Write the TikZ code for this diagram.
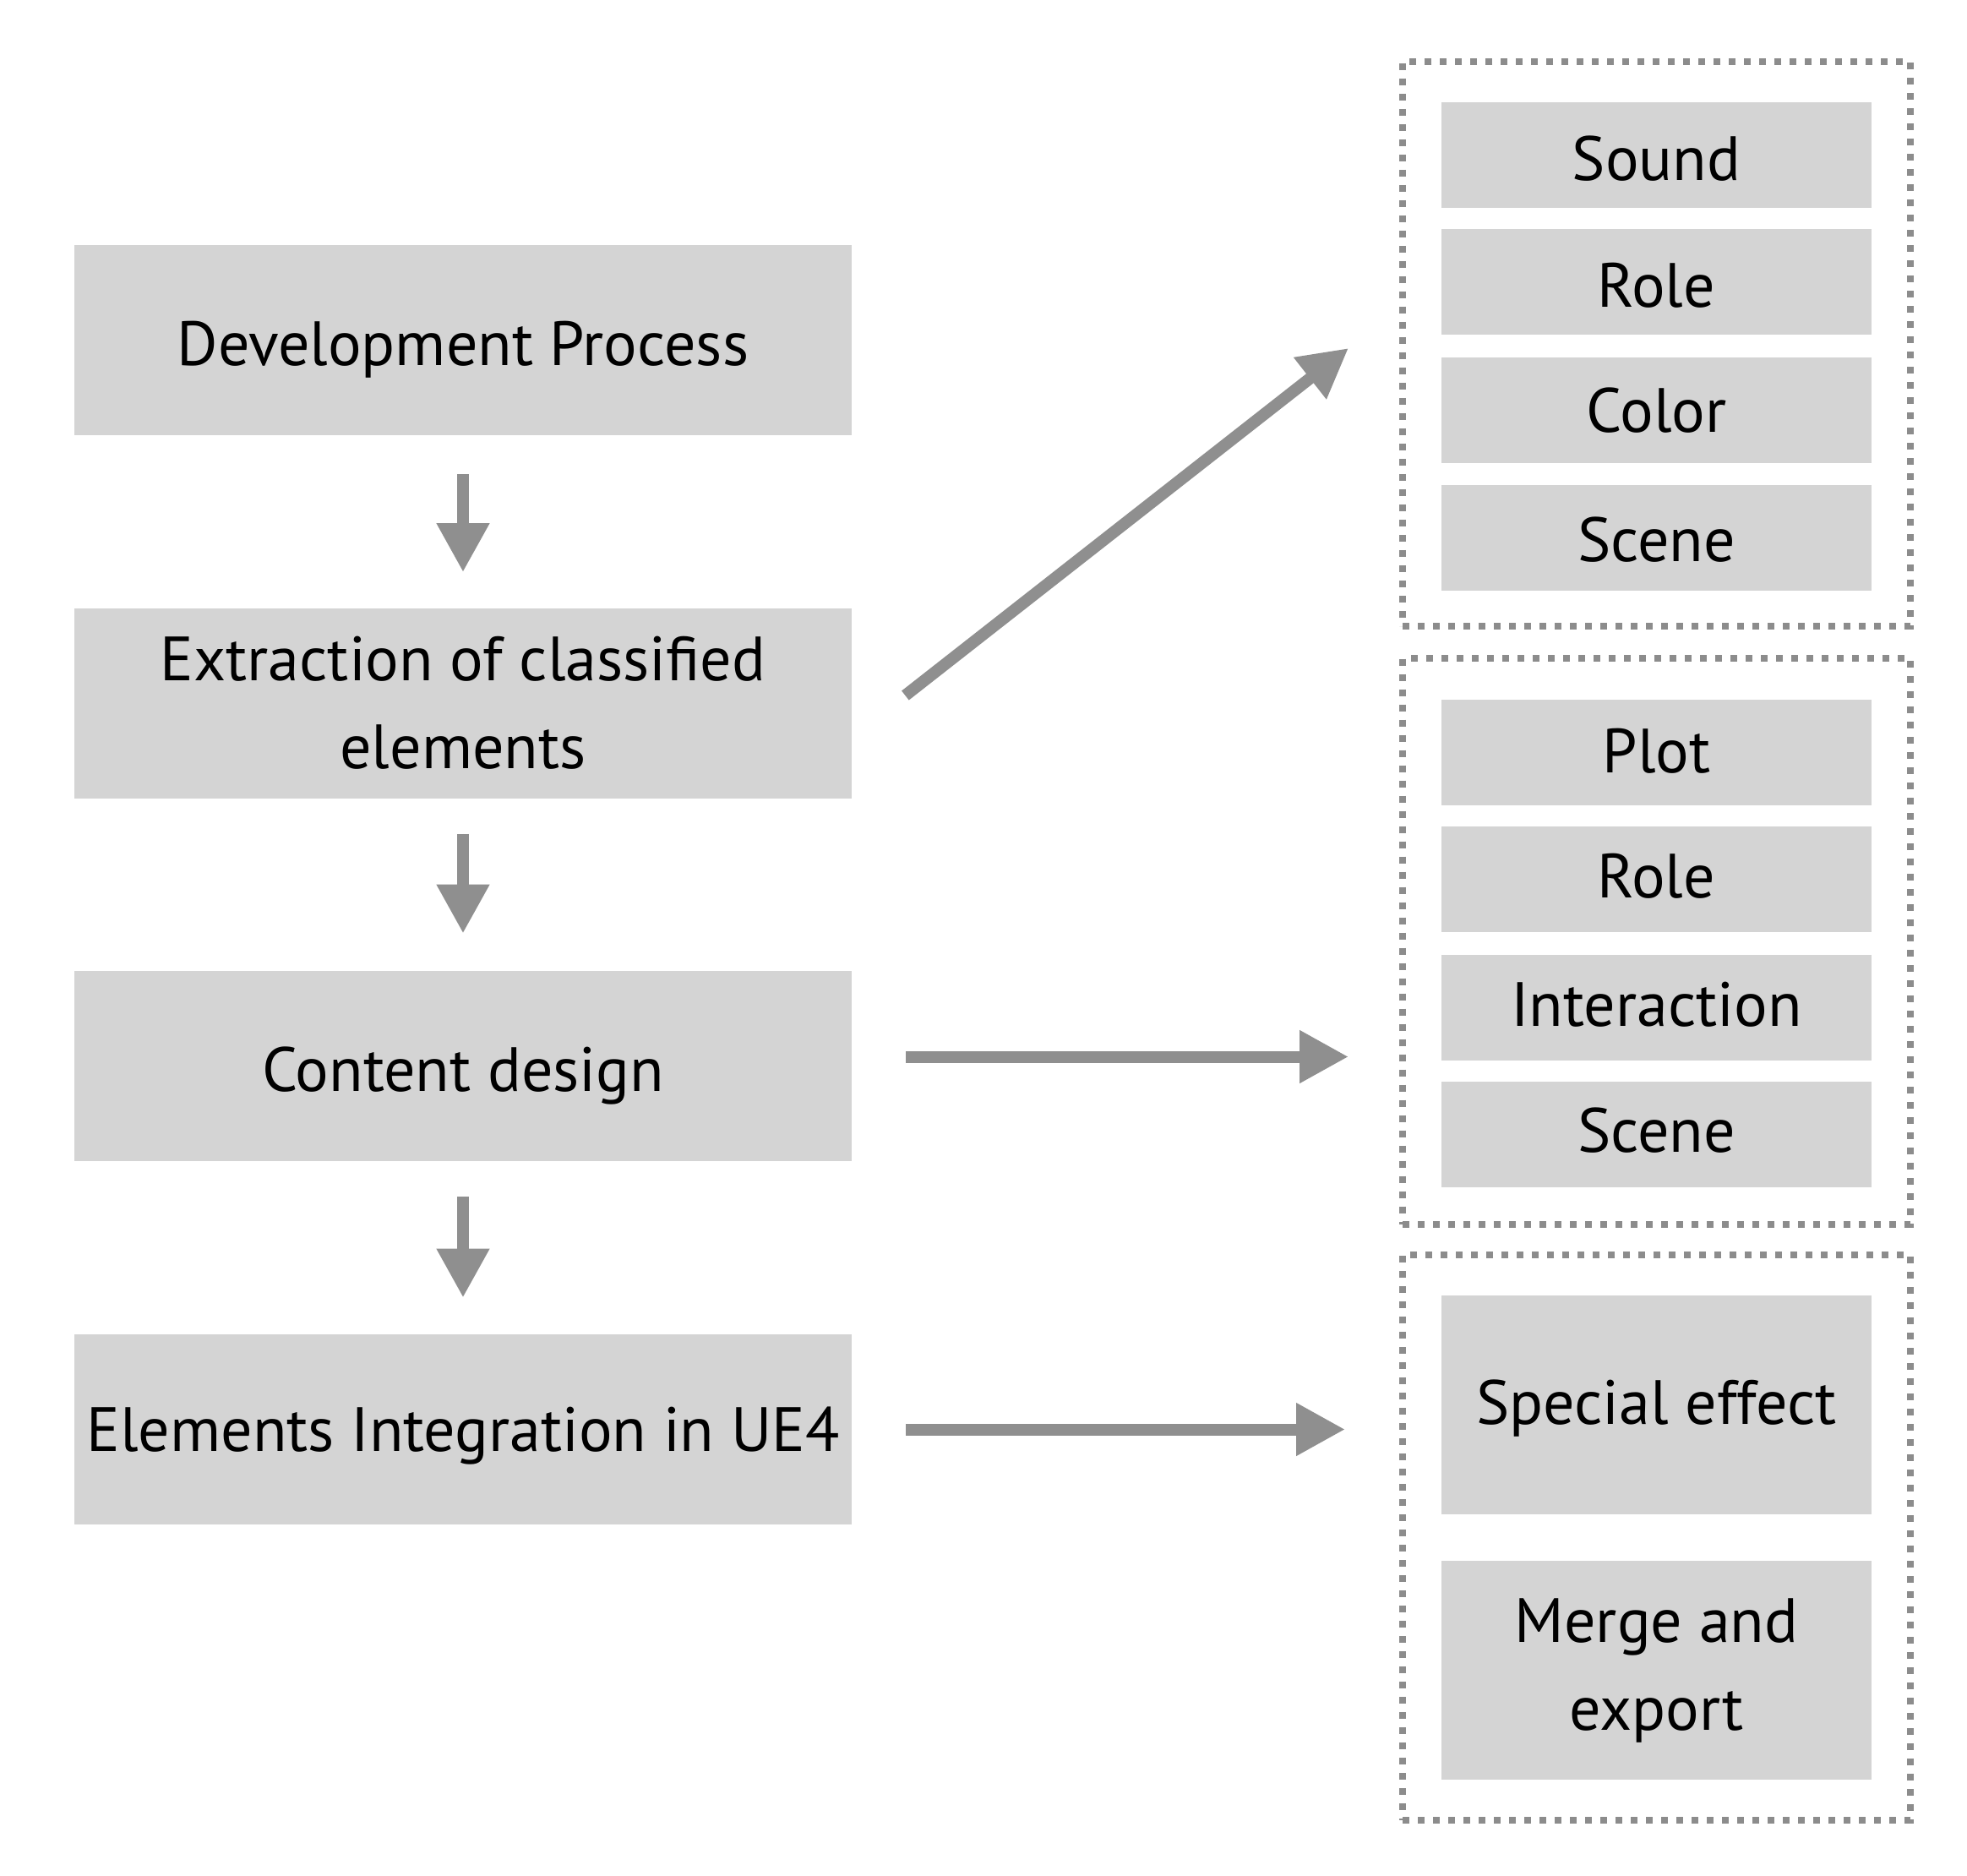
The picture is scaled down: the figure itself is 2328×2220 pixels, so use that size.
\documentclass[tikz,border=0pt]{standalone}
\usepackage{fontspec}
\setmainfont{PT Sans}
\usetikzlibrary{arrows.meta}
\definecolor{boxgray}{HTML}{D4D4D4}
\definecolor{arrgray}{HTML}{8F8F8F}
\definecolor{dotgray}{HTML}{8C8C8C}
\begin{document}
\begin{tikzpicture}[x=0.5pt,y=-0.5pt,
  box/.style={fill=boxgray, draw=none, inner sep=0pt, align=center,
    font=\fontsize{37}{52}\selectfont, text=black},
  oneline/.style={text height=#1, text depth=0pt},
  oneline/.default=29.5pt,
  mainbox/.style={box, minimum width=460pt, minimum height=112.5pt},
  itembox/.style={box, minimum width=254.5pt, minimum height=62.5pt},
  bigitem/.style={box, minimum width=254.5pt, minimum height=129.5pt},
  group/.style={draw=dotgray, line width=4pt, dash pattern=on 4pt off 5pt,
    minimum width=300.5pt, inner sep=0pt, fill=none},
  arr/.style={draw=arrgray, line width=7pt,
    -{Triangle[length=29pt,width=29.5pt]}, fill=arrgray}
]
\useasboundingbox (0,0) rectangle (2328,2220);

% left column
\node[mainbox, oneline] (b1) at (548,402.5) {Development Process};
\node[mainbox] (b2) at (548,832) {Extraction of classified\\elements};
\node[mainbox, oneline] (b3) at (548,1261.5) {Content design};
\node[mainbox, oneline=25.5pt] (b4) at (548,1691.5) {Elements Integration in UE4};

% groups
\node[group, minimum height=334pt] (g1) at (1960.5,407) {};
\node[group, minimum height=334.75pt] (g2) at (1960.5,1113.75) {};
\node[group, minimum height=334.5pt] (g3) at (1960.5,1819.5) {};

% group 1 items
\node[itembox, oneline=30.5pt] (s1) at (1960.5,183.5) {Sound};
\node[itembox, oneline=29.5pt] (s2) at (1960.5,334) {Role};
\node[itembox, oneline=26pt] (s3) at (1960.5,485.5) {Color};
\node[itembox, oneline=28pt] (s4) at (1960.5,636) {Scene};

% group 2 items
\node[itembox, oneline=24pt] (p1) at (1960.5,890) {Plot};
\node[itembox, oneline=22pt] (p2) at (1960.5,1040.5) {Role};
\node[itembox, oneline=22pt] (p3) at (1960.5,1192) {Interaction};
\node[itembox, oneline=21pt] (p4) at (1960.5,1342.5) {Scene};

% group 3 items
\node[bigitem, oneline=22.5pt] (e1) at (1960.5,1662.5) {Special effect};
\node[bigitem] (e2) at (1960.5,1976.5) {Merge and\\export};

% vertical arrows
\draw[arr] ([yshift=-23pt]b1.south) -- ([yshift=21pt]b2.north);
\draw[arr] ([yshift=-21pt]b2.south) -- ([yshift=22pt]b3.north);
\draw[arr] ([yshift=-21pt]b3.south) -- ([yshift=21.5pt]b4.north);

% diagonal arrow
\draw[arr] ([shift={(31.5pt,4.5pt)}]b2.east) -- ([shift={(-30pt,-2.5pt)}]g1.west);

% horizontal arrows
\coordinate (a2s) at ([shift={(32pt,5.5pt)}]b3.east);
\coordinate (t2) at ([xshift=-30pt]g2.west);
\draw[arr] (a2s) -- (t2 |- a2s);
\coordinate (a3s) at ([xshift=32pt]b4.east);
\coordinate (t3) at ([xshift=-32pt]g3.west);
\draw[arr] (a3s) -- (t3 |- a3s);
\end{tikzpicture}
\end{document}
